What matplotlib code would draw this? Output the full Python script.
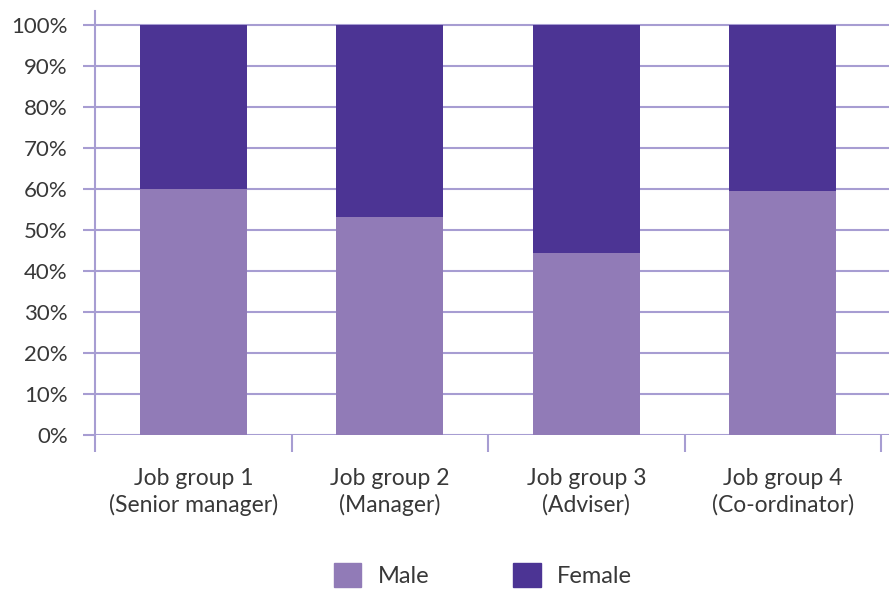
import matplotlib.pyplot as plt
from matplotlib.patches import Patch
from matplotlib.ticker import FixedLocator

plt.rcParams['font.family'] = ['Lato', 'DejaVu Sans']

groups = ['Job group 1\n(Senior manager)', 'Job group 2\n(Manager)',
          'Job group 3\n(Adviser)', 'Job group 4\n(Co-ordinator)']
male = [60, 53, 44.3, 59.4]
female = [100 - m for m in male]

male_color = '#917bb7'
female_color = '#4c3494'
grid_color = '#a79dd2'
text_color = '#383838'

fig = plt.figure(figsize=(8.89, 5.89), dpi=100)
ax = fig.add_axes([95 / 889, 1 - 435 / 589, 794 / 889, 424 / 589])

x = range(len(groups))
ax.bar(x, male, width=0.545, color=male_color, zorder=3, label='Male')
ax.bar(x, female, width=0.545, bottom=male, color=female_color, zorder=3, label='Female')

ax.set_xlim(-0.5, 3.54)
ax.set_ylim(0, 103.3)
ax.set_yticks(range(0, 101, 10))
ax.set_yticklabels([f'{v}%' for v in range(0, 101, 10)])
ax.yaxis.grid(True, color=grid_color, linewidth=1.5, zorder=0)
ax.set_axisbelow(True)

ax.set_xticks(list(x))
ax.set_xticklabels(groups, linespacing=1.25)
ax.xaxis.set_minor_locator(FixedLocator([-0.5, 0.5, 1.5, 2.5, 3.5]))

ax.tick_params(axis='y', length=8.6, width=1.5, color=grid_color, pad=11,
               labelsize=16, labelcolor=text_color)
ax.tick_params(axis='x', which='major', length=0, pad=24,
               labelsize=16.5, labelcolor=text_color)
ax.tick_params(axis='x', which='minor', length=12.2, width=1.5, color=grid_color)

for side in ['top', 'right', 'bottom']:
    ax.spines[side].set_visible(False)
ax.spines['left'].set_color(grid_color)
ax.spines['left'].set_linewidth(1.5)

handles = [Patch(color=male_color, label='Male'), Patch(color=female_color, label='Female')]
fig.legend(handles=handles, loc='center', bbox_to_anchor=(0.543, 0.024), ncol=2,
           frameon=False, fontsize=17, handlelength=1.18, handleheight=1.18,
           handletextpad=0.68, columnspacing=3.55, labelcolor=text_color)

fig.savefig('out.png', dpi=100)
